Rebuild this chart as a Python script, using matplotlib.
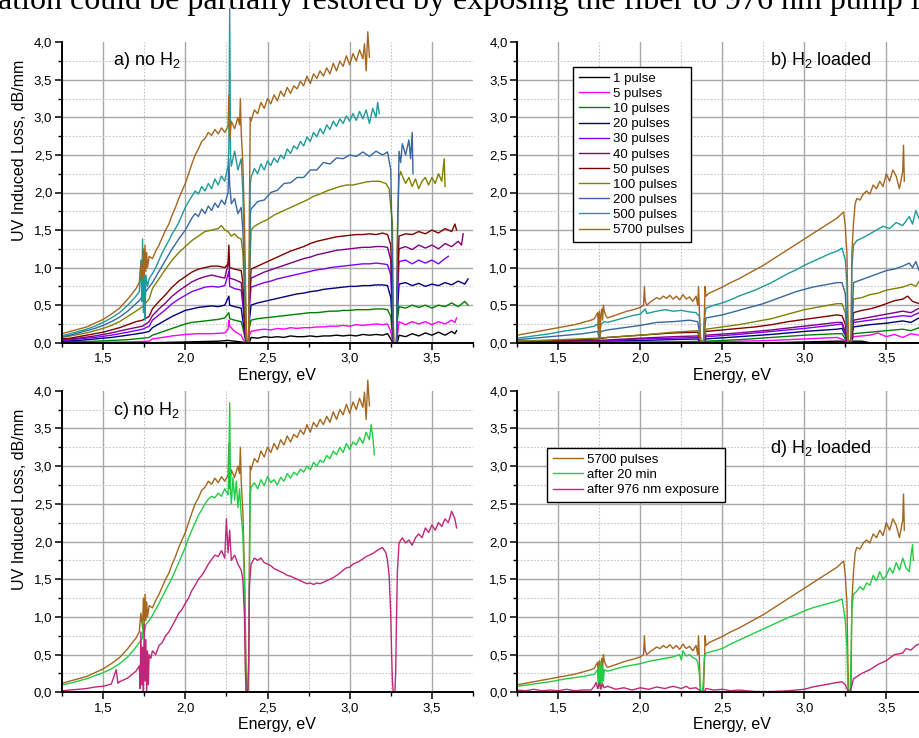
"""
UV induced loss spectra of fibres after N excimer pulses,
with / without H2 loading, plus relaxation and 976 nm photobleaching.
"""
import matplotlib
matplotlib.use("Agg")
import matplotlib.pyplot as plt
from matplotlib.ticker import MultipleLocator, FuncFormatter

plt.rcParams["font.family"] = ["Liberation Sans", "DejaVu Sans"]
plt.rcParams["mathtext.default"] = "regular"

# ── Data: (energy eV, loss dB/mm) ────────────────────────────────────────────

# panel a) no H2
A_1 = [(1.25, 0.0), (1.80, 0.0), (2.00, 0.01), (2.20, 0.02), (2.26, 0.03), (2.30, 0.02),
       (2.34, 0.01), (2.37, 0.0), (2.39, 0.0), (2.40, 0.07), (2.44, 0.06), (2.48, 0.08),
       (2.52, 0.07), (2.56, 0.08), (2.60, 0.07), (2.64, 0.09), (2.68, 0.08), (2.72, 0.08),
       (2.76, 0.09), (2.80, 0.08), (2.84, 0.09), (2.88, 0.09), (2.92, 0.10), (2.96, 0.09),
       (3.00, 0.10), (3.04, 0.09), (3.08, 0.11), (3.12, 0.10), (3.16, 0.11), (3.20, 0.10),
       (3.23, 0.12), (3.25, 0.05), (3.26, 0.0), (3.29, 0.0), (3.30, 0.10), (3.34, 0.08),
       (3.38, 0.12), (3.42, 0.09), (3.46, 0.13), (3.50, 0.10), (3.54, 0.14), (3.58, 0.10),
       (3.62, 0.15), (3.64, 0.12), (3.65, 0.16)]
A_5 = [(1.25, 0.0), (1.65, 0.01), (1.78, 0.02), (1.80, 0.05), (1.86, 0.07), (1.92, 0.09),
       (2.00, 0.11), (2.08, 0.12), (2.16, 0.12), (2.24, 0.13), (2.26, 0.18), (2.265, 0.30),
       (2.27, 0.22), (2.30, 0.15), (2.34, 0.10), (2.35, 0.05), (2.37, 0.0), (2.385, 0.0),
       (2.39, 0.10), (2.40, 0.15), (2.44, 0.17), (2.48, 0.18), (2.52, 0.17), (2.56, 0.19),
       (2.60, 0.18), (2.64, 0.20), (2.68, 0.19), (2.72, 0.20), (2.76, 0.20), (2.80, 0.21),
       (2.84, 0.21), (2.88, 0.22), (2.92, 0.22), (2.96, 0.23), (3.00, 0.22), (3.04, 0.24),
       (3.08, 0.23), (3.12, 0.24), (3.16, 0.25), (3.20, 0.24), (3.23, 0.25), (3.25, 0.15),
       (3.26, 0.03), (3.265, 0.0), (3.285, 0.0), (3.29, 0.10), (3.30, 0.28), (3.34, 0.24),
       (3.38, 0.28), (3.42, 0.25), (3.46, 0.28), (3.50, 0.24), (3.54, 0.28), (3.58, 0.25),
       (3.62, 0.30), (3.64, 0.27), (3.65, 0.33)]
A_10 = [(1.25, 0.01), (1.45, 0.02), (1.65, 0.04), (1.74, 0.06), (1.78, 0.07), (1.80, 0.10),
        (1.84, 0.13), (1.88, 0.16), (1.92, 0.19), (1.96, 0.22), (2.00, 0.25), (2.04, 0.27),
        (2.08, 0.28), (2.12, 0.29), (2.16, 0.30), (2.20, 0.31), (2.24, 0.33), (2.265, 0.40),
        (2.27, 0.32), (2.30, 0.30), (2.34, 0.28), (2.35, 0.20), (2.37, 0.0), (2.385, 0.0),
        (2.39, 0.20), (2.40, 0.30), (2.44, 0.32), (2.48, 0.33), (2.52, 0.34), (2.56, 0.35),
        (2.60, 0.36), (2.64, 0.37), (2.68, 0.38), (2.72, 0.39), (2.76, 0.40), (2.80, 0.40),
        (2.84, 0.41), (2.88, 0.42), (2.92, 0.42), (2.96, 0.43), (3.00, 0.43), (3.04, 0.44),
        (3.08, 0.44), (3.12, 0.44), (3.16, 0.45), (3.20, 0.45), (3.23, 0.44), (3.25, 0.35),
        (3.26, 0.10), (3.265, 0.0), (3.285, 0.0), (3.29, 0.30), (3.30, 0.48), (3.34, 0.46),
        (3.38, 0.50), (3.42, 0.47), (3.46, 0.50), (3.50, 0.46), (3.54, 0.50), (3.58, 0.48),
        (3.62, 0.53), (3.66, 0.48), (3.70, 0.55), (3.72, 0.50)]
A_20 = [(1.25, 0.02), (1.35, 0.03), (1.45, 0.05), (1.55, 0.07), (1.65, 0.10), (1.74, 0.13),
        (1.78, 0.15), (1.80, 0.20), (1.84, 0.25), (1.88, 0.30), (1.92, 0.35), (1.96, 0.39),
        (2.00, 0.43), (2.04, 0.45), (2.08, 0.47), (2.12, 0.48), (2.16, 0.49), (2.20, 0.48),
        (2.24, 0.50), (2.265, 0.62), (2.27, 0.50), (2.30, 0.48), (2.34, 0.46), (2.35, 0.30),
        (2.37, 0.0), (2.385, 0.0), (2.39, 0.30), (2.40, 0.50), (2.44, 0.53), (2.48, 0.55),
        (2.52, 0.57), (2.56, 0.59), (2.60, 0.61), (2.64, 0.63), (2.68, 0.65), (2.72, 0.66),
        (2.76, 0.68), (2.80, 0.69), (2.84, 0.71), (2.88, 0.72), (2.92, 0.73), (2.96, 0.74),
        (3.00, 0.75), (3.04, 0.75), (3.08, 0.76), (3.12, 0.76), (3.16, 0.77), (3.20, 0.77),
        (3.23, 0.76), (3.25, 0.60), (3.26, 0.20), (3.265, 0.0), (3.285, 0.0), (3.29, 0.40),
        (3.30, 0.78), (3.34, 0.80), (3.38, 0.76), (3.42, 0.79), (3.46, 0.75), (3.50, 0.78),
        (3.54, 0.76), (3.58, 0.80), (3.62, 0.77), (3.66, 0.82), (3.70, 0.78), (3.72, 0.85)]
A_30 = [(1.25, 0.03), (1.35, 0.05), (1.45, 0.07), (1.55, 0.10), (1.65, 0.14), (1.74, 0.18),
        (1.78, 0.22), (1.80, 0.30), (1.84, 0.37), (1.88, 0.44), (1.92, 0.52), (1.96, 0.58),
        (2.00, 0.63), (2.04, 0.68), (2.08, 0.71), (2.12, 0.74), (2.16, 0.75), (2.20, 0.74),
        (2.24, 0.76), (2.265, 0.95), (2.27, 0.75), (2.30, 0.72), (2.34, 0.70), (2.35, 0.50),
        (2.37, 0.0), (2.385, 0.0), (2.39, 0.50), (2.40, 0.74), (2.44, 0.77), (2.48, 0.80),
        (2.52, 0.82), (2.56, 0.85), (2.60, 0.87), (2.64, 0.89), (2.68, 0.91), (2.72, 0.93),
        (2.76, 0.95), (2.80, 0.97), (2.84, 0.98), (2.88, 1.00), (2.92, 1.01), (2.96, 1.02),
        (3.00, 1.03), (3.04, 1.04), (3.08, 1.05), (3.12, 1.05), (3.16, 1.06), (3.20, 1.05),
        (3.23, 1.04), (3.25, 0.90), (3.26, 0.30), (3.265, 0.0), (3.285, 0.0), (3.29, 0.60),
        (3.30, 1.08), (3.34, 1.10), (3.38, 1.05), (3.42, 1.10), (3.46, 1.06), (3.50, 1.10),
        (3.54, 1.05), (3.58, 1.12), (3.60, 1.15)]
A_40 = [(1.25, 0.04), (1.35, 0.06), (1.45, 0.09), (1.55, 0.13), (1.65, 0.18), (1.74, 0.22),
        (1.78, 0.28), (1.80, 0.36), (1.84, 0.45), (1.88, 0.53), (1.92, 0.62), (1.96, 0.69),
        (2.00, 0.75), (2.04, 0.81), (2.08, 0.85), (2.12, 0.88), (2.16, 0.90), (2.20, 0.88),
        (2.24, 0.86), (2.265, 1.10), (2.27, 0.86), (2.30, 0.84), (2.34, 0.80), (2.35, 0.60),
        (2.37, 0.0), (2.385, 0.0), (2.39, 0.50), (2.40, 0.86), (2.44, 0.90), (2.48, 0.94),
        (2.52, 0.97), (2.56, 1.00), (2.60, 1.03), (2.64, 1.06), (2.68, 1.09), (2.72, 1.12),
        (2.76, 1.14), (2.80, 1.17), (2.84, 1.19), (2.88, 1.21), (2.92, 1.23), (2.96, 1.24),
        (3.00, 1.25), (3.04, 1.26), (3.08, 1.27), (3.12, 1.27), (3.16, 1.28), (3.20, 1.28),
        (3.23, 1.27), (3.25, 1.10), (3.26, 0.40), (3.265, 0.0), (3.285, 0.0), (3.29, 0.70),
        (3.30, 1.25), (3.34, 1.28), (3.38, 1.24), (3.42, 1.30), (3.46, 1.26), (3.50, 1.30),
        (3.54, 1.25), (3.58, 1.32), (3.62, 1.28), (3.66, 1.35), (3.68, 1.30), (3.69, 1.45)]
A_50 = [(1.25, 0.05), (1.30, 0.06), (1.35, 0.08), (1.40, 0.10), (1.45, 0.12), (1.50, 0.14),
        (1.55, 0.17), (1.60, 0.20), (1.65, 0.24), (1.70, 0.28), (1.74, 0.30), (1.78, 0.35),
        (1.80, 0.45), (1.84, 0.55), (1.88, 0.64), (1.92, 0.74), (1.96, 0.82), (2.00, 0.88),
        (2.04, 0.94), (2.08, 0.98), (2.12, 1.00), (2.16, 1.02), (2.20, 1.02), (2.24, 1.00),
        (2.26, 1.05), (2.265, 1.30), (2.27, 1.00), (2.30, 0.98), (2.34, 0.96), (2.35, 0.80),
        (2.36, 0.40), (2.37, 0.0), (2.385, 0.0), (2.39, 0.60), (2.40, 0.98), (2.44, 1.02),
        (2.48, 1.06), (2.52, 1.10), (2.56, 1.14), (2.60, 1.18), (2.64, 1.22), (2.68, 1.25),
        (2.72, 1.28), (2.76, 1.32), (2.80, 1.35), (2.84, 1.37), (2.88, 1.39), (2.92, 1.41),
        (2.96, 1.42), (3.00, 1.43), (3.04, 1.44), (3.08, 1.44), (3.12, 1.45), (3.16, 1.44),
        (3.20, 1.46), (3.23, 1.44), (3.25, 1.30), (3.26, 0.50), (3.265, 0.0), (3.285, 0.0),
        (3.29, 0.80), (3.30, 1.42), (3.34, 1.45), (3.38, 1.44), (3.42, 1.48), (3.46, 1.45),
        (3.50, 1.50), (3.54, 1.46), (3.58, 1.52), (3.62, 1.48), (3.64, 1.58), (3.65, 1.50)]
A_100 = [(1.25, 0.07), (1.30, 0.09), (1.35, 0.11), (1.40, 0.13), (1.45, 0.16), (1.50, 0.19),
         (1.55, 0.23), (1.60, 0.28), (1.65, 0.35), (1.70, 0.42), (1.74, 0.48), (1.78, 0.58),
         (1.80, 0.72), (1.84, 0.85), (1.88, 0.98), (1.92, 1.10), (1.96, 1.20), (2.00, 1.28),
         (2.04, 1.36), (2.08, 1.42), (2.12, 1.48), (2.16, 1.50), (2.20, 1.52), (2.22, 1.56),
         (2.24, 1.50), (2.26, 1.48), (2.28, 1.42), (2.30, 1.45), (2.32, 1.40), (2.34, 1.38),
         (2.35, 1.20), (2.36, 0.70), (2.37, 0.05), (2.375, 0.0), (2.385, 0.0), (2.39, 0.80),
         (2.40, 1.50), (2.42, 1.55), (2.46, 1.60), (2.50, 1.64), (2.54, 1.70), (2.58, 1.74),
         (2.62, 1.78), (2.66, 1.82), (2.70, 1.86), (2.74, 1.90), (2.78, 1.95), (2.82, 1.98),
         (2.86, 2.02), (2.90, 2.05), (2.94, 2.08), (2.98, 2.10), (3.02, 2.10), (3.06, 2.12),
         (3.10, 2.14), (3.14, 2.15), (3.18, 2.15), (3.22, 2.12), (3.24, 2.05), (3.25, 1.80),
         (3.26, 1.60), (3.265, 0.30), (3.27, 0.0), (3.285, 0.0), (3.29, 1.50), (3.30, 2.20),
         (3.31, 2.28), (3.32, 2.22), (3.34, 2.12), (3.36, 2.20), (3.38, 2.08), (3.40, 2.18),
         (3.42, 2.05), (3.44, 2.15), (3.46, 2.20), (3.48, 2.10), (3.50, 2.20), (3.52, 2.12),
         (3.54, 2.25), (3.56, 2.15), (3.575, 2.45), (3.58, 2.08)]
A_200 = [(1.25, 0.08), (1.30, 0.10), (1.35, 0.13), (1.40, 0.16), (1.45, 0.19), (1.50, 0.23),
         (1.55, 0.28), (1.60, 0.34), (1.65, 0.42), (1.70, 0.52), (1.72, 0.56), (1.74, 0.62),
         (1.76, 0.68), (1.78, 0.74), (1.80, 0.80), (1.84, 0.95), (1.88, 1.10), (1.92, 1.25),
         (1.96, 1.38), (2.00, 1.50), (2.02, 1.58), (2.04, 1.66), (2.06, 1.72), (2.08, 1.68),
         (2.10, 1.78), (2.12, 1.72), (2.14, 1.82), (2.16, 1.76), (2.18, 1.86), (2.20, 1.80),
         (2.22, 1.90), (2.24, 1.84), (2.26, 2.00), (2.265, 2.45), (2.27, 2.10), (2.28, 1.85),
         (2.30, 1.92), (2.32, 1.72), (2.34, 1.80), (2.35, 1.50), (2.36, 0.90), (2.37, 0.10),
         (2.375, 0.0), (2.385, 0.0), (2.39, 0.80), (2.395, 1.70), (2.40, 1.78), (2.44, 1.88),
         (2.48, 1.90), (2.52, 2.00), (2.56, 2.03), (2.60, 2.12), (2.64, 2.13), (2.68, 2.20),
         (2.72, 2.20), (2.76, 2.30), (2.80, 2.30), (2.84, 2.40), (2.88, 2.38), (2.92, 2.46),
         (2.96, 2.45), (3.00, 2.50), (3.04, 2.48), (3.08, 2.54), (3.12, 2.48), (3.16, 2.55),
         (3.20, 2.50), (3.23, 2.54), (3.25, 2.30), (3.26, 1.00), (3.265, 0.0), (3.285, 0.0),
         (3.29, 1.20), (3.30, 2.55), (3.31, 2.40), (3.32, 2.65), (3.34, 2.50), (3.36, 2.70),
         (3.37, 2.45), (3.38, 2.80), (3.385, 2.25)]
A_500 = [(1.25, 0.09), (1.30, 0.12), (1.35, 0.15), (1.40, 0.18), (1.45, 0.22), (1.50, 0.27),
         (1.55, 0.33), (1.60, 0.40), (1.65, 0.50), (1.70, 0.62), (1.72, 0.68), (1.73, 1.10),
         (1.735, 0.55), (1.74, 1.38), (1.745, 0.40), (1.75, 1.20), (1.755, 0.30), (1.76, 0.90),
         (1.77, 0.75), (1.78, 0.85), (1.80, 0.92), (1.82, 1.00), (1.84, 1.10), (1.86, 1.20),
         (1.88, 1.28), (1.90, 1.36), (1.92, 1.45), (1.94, 1.52), (1.96, 1.60), (1.98, 1.70),
         (2.00, 1.80), (2.02, 1.88), (2.04, 1.95), (2.06, 2.02), (2.08, 1.98), (2.10, 2.08),
         (2.12, 2.02), (2.14, 2.12), (2.16, 2.05), (2.18, 2.18), (2.20, 2.10), (2.22, 2.22),
         (2.24, 2.15), (2.26, 2.35), (2.265, 2.60), (2.27, 4.45), (2.275, 2.50), (2.28, 2.35),
         (2.30, 2.55), (2.32, 2.30), (2.34, 2.45), (2.35, 2.00), (2.36, 1.20), (2.37, 0.20),
         (2.375, 0.0), (2.385, 0.0), (2.39, 1.00), (2.395, 2.10), (2.40, 2.20), (2.42, 2.32),
         (2.44, 2.25), (2.46, 2.38), (2.48, 2.30), (2.50, 2.42), (2.52, 2.36), (2.54, 2.46),
         (2.56, 2.40), (2.58, 2.50), (2.60, 2.45), (2.62, 2.58), (2.64, 2.52), (2.66, 2.62),
         (2.68, 2.58), (2.70, 2.68), (2.72, 2.62), (2.74, 2.74), (2.76, 2.68), (2.78, 2.80),
         (2.80, 2.74), (2.82, 2.85), (2.84, 2.78), (2.86, 2.90), (2.88, 2.84), (2.90, 2.95),
         (2.92, 2.88), (2.94, 2.98), (2.96, 2.92), (2.98, 3.02), (3.00, 2.95), (3.02, 3.05),
         (3.04, 2.96), (3.06, 3.08), (3.08, 2.98), (3.10, 3.10), (3.12, 2.92), (3.14, 3.12),
         (3.16, 3.00), (3.17, 3.20), (3.18, 3.05)]
# 5700 pulses, no H2 (same measurement in panels a and c)
A_5700 = [(1.25, 0.12), (1.30, 0.15), (1.35, 0.18), (1.40, 0.21), (1.45, 0.26), (1.50, 0.31),
          (1.55, 0.38), (1.60, 0.46), (1.65, 0.58), (1.70, 0.72), (1.72, 0.80), (1.73, 1.05),
          (1.74, 0.85), (1.745, 1.25), (1.75, 0.90), (1.755, 1.30), (1.76, 0.95), (1.765, 1.20),
          (1.77, 1.00), (1.78, 1.15), (1.80, 1.12), (1.82, 1.22), (1.84, 1.30), (1.86, 1.40),
          (1.88, 1.50), (1.90, 1.58), (1.92, 1.70), (1.94, 1.80), (1.96, 1.92), (1.98, 2.02),
          (2.00, 2.12), (2.02, 2.25), (2.04, 2.38), (2.06, 2.50), (2.08, 2.58), (2.10, 2.68),
          (2.12, 2.72), (2.14, 2.80), (2.16, 2.76), (2.18, 2.84), (2.20, 2.78), (2.22, 2.86),
          (2.24, 2.80), (2.26, 2.88), (2.265, 3.30), (2.27, 2.70), (2.28, 2.95), (2.30, 2.85),
          (2.32, 3.00), (2.33, 2.90), (2.335, 3.25), (2.34, 2.80), (2.35, 2.40), (2.36, 1.60),
          (2.37, 0.30), (2.375, 0.0), (2.385, 0.0), (2.39, 1.80), (2.395, 3.00), (2.40, 2.95),
          (2.42, 3.10), (2.44, 3.05), (2.46, 3.20), (2.48, 3.12), (2.50, 3.25), (2.52, 3.18),
          (2.54, 3.30), (2.56, 3.22), (2.58, 3.35), (2.60, 3.28), (2.62, 3.40), (2.64, 3.32),
          (2.66, 3.42), (2.68, 3.38), (2.70, 3.48), (2.72, 3.42), (2.74, 3.55), (2.76, 3.45),
          (2.78, 3.58), (2.80, 3.52), (2.82, 3.62), (2.84, 3.55), (2.86, 3.66), (2.88, 3.58),
          (2.90, 3.72), (2.92, 3.62), (2.94, 3.75), (2.96, 3.68), (2.98, 3.82), (3.00, 3.70),
          (3.02, 3.85), (3.04, 3.75), (3.06, 3.90), (3.08, 3.78), (3.09, 3.98), (3.10, 3.62),
          (3.11, 4.14), (3.12, 3.80)]

# panel b) H2 loaded
B_1 = [(1.25, 0.0), (2.80, 0.0), (3.00, 0.01), (3.20, 0.02), (3.35, 0.02), (3.40, 0.0),
       (3.72, 0.0)]
B_5 = [(1.25, 0.0), (2.40, 0.01), (2.60, 0.02), (2.80, 0.03), (3.00, 0.05), (3.20, 0.07),
       (3.25, 0.03), (3.265, 0.0), (3.285, 0.0), (3.30, 0.08), (3.40, 0.10), (3.45, 0.13),
       (3.50, 0.08), (3.55, 0.11), (3.60, 0.07), (3.65, 0.12), (3.70, 0.10), (3.72, 0.13)]
B_10 = [(1.25, 0.0), (2.20, 0.01), (2.40, 0.02), (2.60, 0.04), (2.80, 0.07), (3.00, 0.10),
        (3.20, 0.12), (3.23, 0.12), (3.25, 0.05), (3.265, 0.0), (3.285, 0.0), (3.30, 0.12),
        (3.40, 0.14), (3.50, 0.16), (3.60, 0.18), (3.65, 0.16), (3.70, 0.20), (3.72, 0.19)]
B_20 = [(1.25, 0.01), (2.00, 0.03), (2.35, 0.05), (2.37, 0.0), (2.385, 0.0), (2.40, 0.05),
        (2.60, 0.08), (2.80, 0.11), (3.00, 0.15), (3.20, 0.18), (3.23, 0.19), (3.25, 0.10),
        (3.265, 0.0), (3.285, 0.0), (3.30, 0.21), (3.40, 0.24), (3.50, 0.26), (3.60, 0.29),
        (3.65, 0.27), (3.70, 0.33), (3.72, 0.30)]
B_30 = [(1.25, 0.01), (1.74, 0.02), (2.00, 0.05), (2.20, 0.06), (2.35, 0.07), (2.37, 0.0),
        (2.385, 0.0), (2.40, 0.08), (2.60, 0.11), (2.80, 0.15), (3.00, 0.19), (3.20, 0.24),
        (3.23, 0.25), (3.25, 0.12), (3.265, 0.0), (3.285, 0.0), (3.30, 0.27), (3.40, 0.30),
        (3.50, 0.33), (3.60, 0.36), (3.65, 0.35), (3.70, 0.40), (3.72, 0.38)]
B_40 = [(1.25, 0.01), (1.74, 0.03), (2.00, 0.06), (2.20, 0.08), (2.35, 0.09), (2.37, 0.0),
        (2.385, 0.0), (2.40, 0.10), (2.60, 0.13), (2.80, 0.17), (3.00, 0.22), (3.20, 0.27),
        (3.23, 0.27), (3.25, 0.15), (3.265, 0.0), (3.285, 0.0), (3.30, 0.30), (3.40, 0.34),
        (3.50, 0.38), (3.60, 0.42), (3.65, 0.40), (3.70, 0.46), (3.72, 0.44)]
B_50 = [(1.25, 0.02), (1.50, 0.03), (1.74, 0.05), (1.80, 0.07), (2.00, 0.10), (2.20, 0.13),
        (2.35, 0.14), (2.37, 0.0), (2.385, 0.0), (2.40, 0.15), (2.50, 0.17), (2.60, 0.19),
        (2.70, 0.21), (2.80, 0.24), (2.90, 0.28), (3.00, 0.31), (3.10, 0.34), (3.20, 0.37),
        (3.23, 0.36), (3.25, 0.25), (3.265, 0.0), (3.285, 0.0), (3.30, 0.40), (3.35, 0.43),
        (3.40, 0.45), (3.45, 0.48), (3.50, 0.52), (3.55, 0.56), (3.60, 0.58), (3.63, 0.62),
        (3.66, 0.55), (3.70, 0.52), (3.72, 0.56)]
B_100 = [(1.25, 0.02), (1.50, 0.04), (1.74, 0.06), (1.80, 0.07), (2.00, 0.10), (2.20, 0.14),
         (2.35, 0.16), (2.37, 0.0), (2.385, 0.0), (2.40, 0.18), (2.50, 0.21), (2.60, 0.24),
         (2.70, 0.28), (2.80, 0.32), (2.90, 0.38), (3.00, 0.44), (3.10, 0.48), (3.20, 0.52),
         (3.23, 0.52), (3.25, 0.40), (3.265, 0.0), (3.285, 0.0), (3.30, 0.58), (3.35, 0.60),
         (3.40, 0.64), (3.45, 0.66), (3.50, 0.70), (3.55, 0.72), (3.60, 0.74), (3.65, 0.78),
         (3.68, 0.75), (3.70, 0.82), (3.72, 0.76)]
B_200 = [(1.25, 0.04), (1.35, 0.06), (1.45, 0.08), (1.55, 0.10), (1.65, 0.12), (1.74, 0.15),
         (1.75, 0.05), (1.76, 0.15), (1.80, 0.17), (1.90, 0.20), (2.00, 0.23), (2.10, 0.27),
         (2.20, 0.28), (2.30, 0.30), (2.35, 0.28), (2.37, 0.0), (2.385, 0.0), (2.40, 0.33),
         (2.45, 0.35), (2.50, 0.37), (2.55, 0.40), (2.60, 0.43), (2.65, 0.46), (2.70, 0.49),
         (2.75, 0.52), (2.80, 0.56), (2.85, 0.60), (2.90, 0.64), (2.95, 0.68), (3.00, 0.71),
         (3.05, 0.74), (3.10, 0.76), (3.15, 0.78), (3.20, 0.80), (3.23, 0.80), (3.25, 0.65),
         (3.265, 0.0), (3.285, 0.0), (3.30, 0.80), (3.35, 0.84), (3.40, 0.88), (3.45, 0.92),
         (3.50, 0.96), (3.55, 0.98), (3.60, 1.02), (3.64, 1.06), (3.66, 1.00), (3.68, 1.08),
         (3.70, 0.96), (3.72, 0.98)]
B_500 = [(1.25, 0.06), (1.35, 0.09), (1.45, 0.12), (1.55, 0.16), (1.65, 0.19), (1.72, 0.22),
         (1.74, 0.25), (1.75, 0.10), (1.76, 0.24), (1.78, 0.28), (1.80, 0.27), (1.85, 0.30),
         (1.90, 0.33), (1.95, 0.36), (2.00, 0.38), (2.03, 0.45), (2.04, 0.39), (2.10, 0.42),
         (2.15, 0.44), (2.20, 0.42), (2.25, 0.43), (2.30, 0.41), (2.34, 0.40), (2.36, 0.35),
         (2.37, 0.0), (2.385, 0.0), (2.39, 0.30), (2.40, 0.46), (2.45, 0.50), (2.50, 0.53),
         (2.55, 0.57), (2.60, 0.62), (2.65, 0.66), (2.70, 0.70), (2.75, 0.75), (2.80, 0.80),
         (2.85, 0.86), (2.90, 0.92), (2.95, 0.97), (3.00, 1.03), (3.05, 1.08), (3.10, 1.13),
         (3.15, 1.18), (3.20, 1.22), (3.23, 1.26), (3.25, 1.10), (3.26, 0.80), (3.265, 0.0),
         (3.285, 0.0), (3.29, 1.00), (3.30, 1.30), (3.32, 1.36), (3.36, 1.40), (3.40, 1.45),
         (3.44, 1.50), (3.48, 1.55), (3.52, 1.52), (3.56, 1.60), (3.60, 1.56), (3.64, 1.68),
         (3.66, 1.58), (3.68, 1.76), (3.70, 1.65), (3.72, 1.68)]
# 5700 pulses, H2 loaded (same measurement in panels b and d)
B_5700 = [(1.25, 0.10), (1.30, 0.12), (1.35, 0.14), (1.40, 0.16), (1.45, 0.18), (1.50, 0.20),
          (1.55, 0.22), (1.60, 0.24), (1.65, 0.27), (1.70, 0.30), (1.72, 0.32), (1.74, 0.40),
          (1.745, 0.15), (1.75, 0.42), (1.755, 0.08), (1.76, 0.38), (1.765, 0.45), (1.77, 0.30),
          (1.775, 0.50), (1.78, 0.42), (1.79, 0.36), (1.80, 0.33), (1.84, 0.36), (1.88, 0.39),
          (1.92, 0.42), (1.96, 0.44), (2.00, 0.47), (2.02, 0.50), (2.025, 0.75), (2.03, 0.55),
          (2.04, 0.50), (2.06, 0.54), (2.08, 0.57), (2.10, 0.60), (2.12, 0.58), (2.14, 0.62),
          (2.16, 0.59), (2.18, 0.63), (2.20, 0.58), (2.22, 0.62), (2.24, 0.57), (2.26, 0.64),
          (2.28, 0.58), (2.30, 0.61), (2.32, 0.55), (2.34, 0.62), (2.35, 0.50), (2.355, 0.75),
          (2.36, 0.45), (2.365, 0.10), (2.37, 0.0), (2.385, 0.0), (2.39, 0.30), (2.395, 0.75),
          (2.40, 0.62), (2.42, 0.66), (2.44, 0.68), (2.46, 0.70), (2.48, 0.72), (2.50, 0.74),
          (2.55, 0.80), (2.60, 0.85), (2.65, 0.91), (2.70, 0.97), (2.75, 1.03), (2.80, 1.10),
          (2.85, 1.17), (2.90, 1.24), (2.95, 1.31), (3.00, 1.38), (3.05, 1.45), (3.10, 1.52),
          (3.15, 1.59), (3.20, 1.66), (3.23, 1.72), (3.24, 1.74), (3.25, 1.55), (3.255, 1.35),
          (3.26, 1.20), (3.265, 0.50), (3.27, 0.0), (3.285, 0.0), (3.29, 1.20), (3.30, 1.60),
          (3.31, 1.85), (3.32, 1.92), (3.34, 1.90), (3.36, 1.98), (3.38, 2.02), (3.40, 1.98),
          (3.42, 2.10), (3.44, 2.05), (3.46, 2.15), (3.48, 2.08), (3.50, 2.25), (3.52, 2.15),
          (3.54, 2.30), (3.56, 2.22), (3.58, 2.05), (3.60, 2.28), (3.605, 2.63), (3.61, 2.15)]

# panel c) no H2 : relaxation and 976 nm exposure
C_20MIN = [(1.25, 0.10), (1.30, 0.12), (1.35, 0.15), (1.40, 0.18), (1.45, 0.22), (1.50, 0.26),
           (1.55, 0.31), (1.60, 0.38), (1.65, 0.47), (1.70, 0.60), (1.72, 0.66), (1.74, 0.72),
           (1.745, 0.95), (1.75, 0.78), (1.76, 0.90), (1.78, 0.95), (1.80, 1.02), (1.84, 1.18),
           (1.88, 1.35), (1.92, 1.52), (1.96, 1.72), (2.00, 1.92), (2.02, 2.05), (2.04, 2.15),
           (2.06, 2.25), (2.08, 2.35), (2.10, 2.42), (2.12, 2.50), (2.14, 2.56), (2.16, 2.60),
           (2.18, 2.58), (2.20, 2.64), (2.22, 2.60), (2.24, 2.70), (2.26, 2.62), (2.265, 3.00),
           (2.27, 3.84), (2.275, 2.70), (2.28, 2.50), (2.29, 2.85), (2.30, 2.55), (2.31, 2.80),
           (2.32, 2.45), (2.33, 2.70), (2.34, 2.35), (2.35, 2.10), (2.36, 1.40), (2.365, 0.60),
           (2.37, 0.0), (2.38, 0.0), (2.385, 0.30), (2.39, 1.50), (2.395, 2.60), (2.40, 2.72),
           (2.42, 2.78), (2.44, 2.70), (2.46, 2.82), (2.48, 2.74), (2.50, 2.86), (2.52, 2.78),
           (2.54, 2.82), (2.56, 2.75), (2.58, 2.85), (2.60, 2.80), (2.62, 2.90), (2.64, 2.84),
           (2.66, 2.92), (2.68, 2.88), (2.70, 2.96), (2.72, 2.92), (2.74, 3.00), (2.76, 2.95),
           (2.78, 3.05), (2.80, 3.00), (2.82, 3.08), (2.84, 3.05), (2.86, 3.14), (2.88, 3.10),
           (2.90, 3.20), (2.92, 3.15), (2.94, 3.25), (2.96, 3.18), (2.98, 3.30), (3.00, 3.22),
           (3.02, 3.32), (3.04, 3.28), (3.06, 3.38), (3.08, 3.30), (3.10, 3.45), (3.12, 3.35),
           (3.13, 3.55), (3.14, 3.40), (3.15, 3.15)]
C_976 = [(1.25, 0.02), (1.30, 0.03), (1.35, 0.04), (1.40, 0.05), (1.45, 0.07), (1.50, 0.08),
         (1.55, 0.11), (1.58, 0.30), (1.59, 0.12), (1.60, 0.14), (1.65, 0.19), (1.70, 0.28),
         (1.72, 0.35), (1.725, 0.05), (1.73, 0.80), (1.735, 0.10), (1.74, 0.60), (1.745, 0.0),
         (1.75, 0.90), (1.755, 0.15), (1.76, 0.70), (1.765, 0.0), (1.77, 0.55), (1.775, 0.10),
         (1.78, 0.50), (1.79, 0.45), (1.80, 0.55), (1.82, 0.50), (1.84, 0.62), (1.86, 0.66),
         (1.88, 0.75), (1.90, 0.80), (1.92, 0.88), (1.94, 0.96), (1.96, 1.05), (1.98, 1.10),
         (2.00, 1.18), (2.02, 1.25), (2.04, 1.35), (2.06, 1.42), (2.08, 1.50), (2.10, 1.55),
         (2.12, 1.62), (2.14, 1.70), (2.16, 1.76), (2.18, 1.82), (2.20, 1.80), (2.22, 1.88),
         (2.24, 1.78), (2.25, 2.30), (2.26, 1.85), (2.27, 2.15), (2.28, 1.75), (2.30, 1.82),
         (2.32, 1.70), (2.34, 1.62), (2.35, 1.50), (2.36, 1.00), (2.365, 0.30), (2.37, 0.0),
         (2.38, 0.0), (2.385, 0.40), (2.39, 1.40), (2.40, 1.70), (2.42, 1.78), (2.44, 1.75),
         (2.46, 1.78), (2.48, 1.72), (2.50, 1.70), (2.52, 1.68), (2.54, 1.64), (2.56, 1.62),
         (2.58, 1.60), (2.60, 1.58), (2.62, 1.55), (2.64, 1.54), (2.66, 1.52), (2.68, 1.50),
         (2.70, 1.48), (2.72, 1.46), (2.74, 1.44), (2.76, 1.45), (2.78, 1.43), (2.80, 1.45),
         (2.82, 1.44), (2.84, 1.46), (2.86, 1.48), (2.88, 1.50), (2.90, 1.52), (2.92, 1.55),
         (2.94, 1.58), (2.96, 1.62), (2.98, 1.65), (3.00, 1.66), (3.02, 1.70), (3.04, 1.72),
         (3.06, 1.74), (3.08, 1.77), (3.10, 1.80), (3.12, 1.82), (3.14, 1.84), (3.16, 1.87),
         (3.18, 1.90), (3.20, 1.92), (3.22, 1.85), (3.23, 1.75), (3.24, 1.55), (3.25, 1.00),
         (3.255, 0.50), (3.26, 0.15), (3.265, 0.0), (3.275, 0.0), (3.28, 0.30), (3.285, 1.00),
         (3.29, 1.60), (3.30, 1.98), (3.32, 2.05), (3.34, 1.98), (3.36, 2.02), (3.38, 1.95),
         (3.40, 2.05), (3.42, 2.10), (3.44, 2.05), (3.46, 2.18), (3.48, 2.12), (3.50, 2.22),
         (3.52, 2.15), (3.54, 2.25), (3.56, 2.20), (3.58, 2.30), (3.60, 2.25), (3.62, 2.40),
         (3.64, 2.30), (3.65, 2.18)]

# panel d) H2 loaded : relaxation and 976 nm exposure
D_20MIN = [(1.25, 0.08), (1.35, 0.11), (1.45, 0.14), (1.55, 0.18), (1.65, 0.21), (1.72, 0.24),
           (1.74, 0.30), (1.745, 0.05), (1.75, 0.35), (1.755, 0.12), (1.76, 0.40), (1.765, 0.08),
           (1.77, 0.35), (1.775, 0.15), (1.78, 0.30), (1.80, 0.28), (1.85, 0.31), (1.90, 0.34),
           (1.95, 0.36), (2.00, 0.38), (2.05, 0.41), (2.10, 0.43), (2.15, 0.45), (2.20, 0.47),
           (2.24, 0.50), (2.25, 0.43), (2.26, 0.55), (2.28, 0.48), (2.30, 0.50), (2.32, 0.46),
           (2.34, 0.44), (2.35, 0.40), (2.36, 0.25), (2.365, 0.05), (2.37, 0.0), (2.38, 0.0),
           (2.385, 0.20), (2.39, 0.45), (2.40, 0.52), (2.45, 0.55), (2.50, 0.58), (2.55, 0.64),
           (2.60, 0.69), (2.65, 0.74), (2.70, 0.79), (2.75, 0.84), (2.80, 0.89), (2.85, 0.94),
           (2.90, 0.99), (2.95, 1.03), (3.00, 1.08), (3.05, 1.12), (3.10, 1.15), (3.15, 1.18),
           (3.20, 1.21), (3.23, 1.24), (3.24, 1.10), (3.25, 0.95), (3.26, 0.60), (3.265, 0.10),
           (3.27, 0.0), (3.28, 0.0), (3.285, 0.50), (3.29, 1.10), (3.30, 1.30), (3.32, 1.34),
           (3.34, 1.40), (3.36, 1.36), (3.38, 1.45), (3.40, 1.42), (3.42, 1.55), (3.44, 1.48),
           (3.46, 1.60), (3.48, 1.50), (3.50, 1.55), (3.52, 1.65), (3.54, 1.58), (3.56, 1.72),
           (3.58, 1.62), (3.60, 1.78), (3.62, 1.65), (3.64, 1.60), (3.65, 1.80), (3.66, 1.96),
           (3.665, 1.75)]
D_976 = [(1.25, 0.03), (1.30, 0.02), (1.35, 0.04), (1.40, 0.02), (1.45, 0.03), (1.50, 0.02),
         (1.55, 0.04), (1.60, 0.02), (1.65, 0.03), (1.70, 0.03), (1.72, 0.08), (1.73, 0.13),
         (1.74, 0.05), (1.75, 0.12), (1.76, 0.04), (1.77, 0.11), (1.78, 0.06), (1.80, 0.08),
         (1.85, 0.04), (1.90, 0.06), (1.95, 0.03), (2.00, 0.06), (2.05, 0.04), (2.10, 0.07),
         (2.15, 0.05), (2.20, 0.08), (2.25, 0.05), (2.28, 0.08), (2.30, 0.05), (2.34, 0.06),
         (2.36, 0.03), (2.37, 0.0), (2.39, 0.0), (2.40, 0.05), (2.45, 0.03), (2.50, 0.04),
         (2.55, 0.02), (2.60, 0.03), (2.70, 0.01), (2.80, 0.01), (2.90, 0.02), (3.00, 0.04),
         (3.05, 0.07), (3.10, 0.09), (3.15, 0.11), (3.20, 0.13), (3.23, 0.14), (3.25, 0.10),
         (3.26, 0.05), (3.27, 0.0), (3.285, 0.05), (3.30, 0.18), (3.35, 0.25), (3.40, 0.30),
         (3.45, 0.37), (3.50, 0.42), (3.55, 0.50), (3.60, 0.52), (3.62, 0.58), (3.65, 0.56),
         (3.68, 0.62), (3.72, 0.66)]

PULSE_LABELS = ["1 pulse", "5 pulses", "10 pulses", "20 pulses", "30 pulses", "40 pulses",
                "50 pulses", "100 pulses", "200 pulses", "500 pulses", "5700 pulses"]
PULSE_COLORS = ["#000000", "#ff00ff", "#008000", "#000080", "#8000ff", "#800080",
                "#800000", "#808000", "#3768a2", "#1e9a9a", "#a5661e"]
SERIES_A = [A_1, A_5, A_10, A_20, A_30, A_40, A_50, A_100, A_200, A_500, A_5700]
SERIES_B = [B_1, B_5, B_10, B_20, B_30, B_40, B_50, B_100, B_200, B_500, B_5700]

RELAX_LABELS = ["5700 pulses", "after 20 min", "after 976 nm exposure"]
RELAX_COLORS = ["#a5661e", "#22cc44", "#c0267a"]
SERIES_C = [A_5700, C_20MIN, C_976]
SERIES_D = [B_5700, D_20MIN, D_976]

TOP_TEXT = "ation could be partially restored by exposing the fiber to 976 nm pump l"

# ── Helpers ──────────────────────────────────────────────────────────────────

def comma(v, pos):
    return f"{v:.1f}".replace(".", ",")


def style_axes(ax):
    ax.set_xlim(1.25, 3.75)
    ax.set_ylim(0, 4.0)
    ax.xaxis.set_major_locator(MultipleLocator(0.5))
    ax.xaxis.set_minor_locator(MultipleLocator(0.25))
    ax.yaxis.set_major_locator(MultipleLocator(0.5))
    ax.yaxis.set_minor_locator(MultipleLocator(0.25))
    ax.xaxis.set_major_formatter(FuncFormatter(comma))
    ax.yaxis.set_major_formatter(FuncFormatter(comma))
    ax.tick_params(which="major", direction="out", length=5, width=1.1,
                   labelsize=9.5, pad=2)
    ax.tick_params(which="minor", direction="out", length=3, width=1.0)
    for side in ("top", "right"):
        ax.spines[side].set_visible(False)
    for side in ("left", "bottom"):
        ax.spines[side].set_linewidth(1.4)
        ax.spines[side].set_zorder(5)

    # grid drawn by hand so the 4.0 line stays off
    for v in (1.5, 2.0, 2.5, 3.0, 3.5):
        ax.axvline(v, color="#a8a8a8", lw=1.0, zorder=0)
    for v in (1.75, 2.25, 2.75, 3.25):
        ax.axvline(v, color="#c4c4c4", lw=0.8, ls=(0, (1.5, 1.5)), zorder=0)
    for v in (0.5, 1.0, 1.5, 2.0, 2.5, 3.0, 3.5):
        ax.axhline(v, color="#a8a8a8", lw=1.0, zorder=0)
    for v in (0.25, 0.75, 1.25, 1.75, 2.25, 2.75, 3.25, 3.75):
        ax.axhline(v, color="#c4c4c4", lw=0.8, ls=(0, (1.5, 1.5)), zorder=0)

    ax.set_xlabel("Energy, eV", fontsize=11.5)


def draw(ax, series, colors, labels, clip=True):
    for pts, c, lbl in zip(series, colors, labels):
        e = [p[0] for p in pts]
        y = [p[1] for p in pts]
        ax.plot(e, y, color=c, lw=1.0, label=lbl, clip_on=clip, zorder=2)


# ── Figure ───────────────────────────────────────────────────────────────────

def make_figure():
    W, H = 919, 738
    fig = plt.figure(figsize=(W / 100, H / 100), dpi=100)

    def box(x0, ytop, ybot, xright):
        return [x0 / W, 1 - ybot / H, (xright - x0) / W, (ybot - ytop) / H]

    ax_a = fig.add_axes(box(62, 42.3, 342.7, 473))
    ax_b = fig.add_axes(box(517.3, 42.3, 342.7, 927.3))
    ax_c = fig.add_axes(box(62, 390.7, 692.3, 473))
    ax_d = fig.add_axes(box(517.3, 390.7, 692.3, 927.3))

    for ax in (ax_a, ax_b, ax_c, ax_d):
        style_axes(ax)
        ax.xaxis.set_label_coords(0.524, -0.083)

    draw(ax_a, SERIES_A, PULSE_COLORS, PULSE_LABELS, clip=False)
    draw(ax_b, SERIES_B, PULSE_COLORS, PULSE_LABELS)
    draw(ax_c, SERIES_C, RELAX_COLORS, RELAX_LABELS, clip=False)
    draw(ax_d, SERIES_D, RELAX_COLORS, RELAX_LABELS)

    for ax in (ax_a, ax_c):
        ax.set_ylabel("UV Induced Loss, dB/mm", fontsize=11.5)
        ax.yaxis.set_label_coords(-0.085, 0.64)

    ax_a.text(0.124, 0.938, "a) no H$_2$", transform=ax_a.transAxes, fontsize=13,
              va="center", ha="left")
    ax_b.text(0.616, 0.938, "b) H$_2$ loaded", transform=ax_b.transAxes, fontsize=13,
              va="center", ha="left")
    ax_c.text(0.124, 0.935, "c) no H$_2$", transform=ax_c.transAxes, fontsize=13,
              va="center", ha="left")
    ax_d.text(0.616, 0.81, "d) H$_2$ loaded", transform=ax_d.transAxes, fontsize=13,
              va="center", ha="left")

    leg_kw = dict(loc="upper left", borderaxespad=0, fancybox=False, framealpha=1,
                  edgecolor="black", fontsize=9.5, handlelength=2.3,
                  handletextpad=0.3, labelspacing=0.22, borderpad=0.45)
    lb = ax_b.legend(bbox_to_anchor=(0.136, 0.919), **leg_kw)
    ld = ax_d.legend(bbox_to_anchor=(0.072, 0.811), **leg_kw)
    for lg in (lb, ld):
        lg.get_frame().set_linewidth(1.0)
        lg.set_zorder(10)

    # cropped line of the surrounding page text
    fig.text(-0.002, 1 - 9 / H, TOP_TEXT, fontsize=23, ha="left", va="baseline",
             family=["Liberation Serif", "DejaVu Serif"])
    return fig


if __name__ == "__main__":
    fig = make_figure()
    fig.savefig("out.png", dpi=100)
